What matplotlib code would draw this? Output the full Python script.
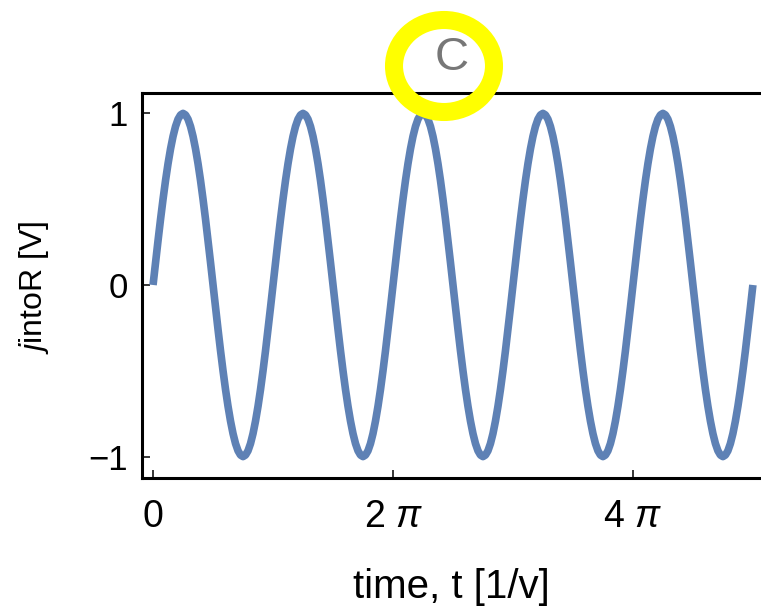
import numpy as np
import matplotlib.pyplot as plt
from matplotlib.patches import Ellipse

plt.rcParams['font.family'] = 'Liberation Sans'
plt.rcParams['mathtext.fontset'] = 'custom'
plt.rcParams['mathtext.rm'] = 'Liberation Sans'
plt.rcParams['mathtext.it'] = 'Liberation Sans:italic'

# j_intoR samples, every pi/48 in t (5 periods)
j_into_r = [
	0, .131, .259, .383, .5, .609, .707, .793, .866, .924, .966, .991, 1, .991, .966, .924, .866, .793, .707, .609, .5, .383, .259, .131,
	0, -.131, -.259, -.383, -.5, -.609, -.707, -.793, -.866, -.924, -.966, -.991, -1, -.991, -.966, -.924, -.866, -.793, -.707, -.609, -.5, -.383, -.259, -.131,
	0, .131, .259, .383, .5, .609, .707, .793, .866, .924, .966, .991, 1, .991, .966, .924, .866, .793, .707, .609, .5, .383, .259, .131,
	0, -.131, -.259, -.383, -.5, -.609, -.707, -.793, -.866, -.924, -.966, -.991, -1, -.991, -.966, -.924, -.866, -.793, -.707, -.609, -.5, -.383, -.259, -.131,
	0, .131, .259, .383, .5, .609, .707, .793, .866, .924, .966, .991, 1, .991, .966, .924, .866, .793, .707, .609, .5, .383, .259, .131,
	0, -.131, -.259, -.383, -.5, -.609, -.707, -.793, -.866, -.924, -.966, -.991, -1, -.991, -.966, -.924, -.866, -.793, -.707, -.609, -.5, -.383, -.259, -.131,
	0, .131, .259, .383, .5, .609, .707, .793, .866, .924, .966, .991, 1, .991, .966, .924, .866, .793, .707, .609, .5, .383, .259, .131,
	0, -.131, -.259, -.383, -.5, -.609, -.707, -.793, -.866, -.924, -.966, -.991, -1, -.991, -.966, -.924, -.866, -.793, -.707, -.609, -.5, -.383, -.259, -.131,
	0, .131, .259, .383, .5, .609, .707, .793, .866, .924, .966, .991, 1, .991, .966, .924, .866, .793, .707, .609, .5, .383, .259, .131,
	0, -.131, -.259, -.383, -.5, -.609, -.707, -.793, -.866, -.924, -.966, -.991, -1, -.991, -.966, -.924, -.866, -.793, -.707, -.609, -.5, -.383, -.259, -.131,
	0,
]
t_end = 5 * np.pi
time = np.linspace(0, t_end, len(j_into_r))

xticks = [0, 2 * np.pi, 4 * np.pi]
xtick_labels = ["0", r"2 $\pi$", r"4 $\pi$"]
yticks = [-1, 0, 1]
ytick_labels = ["\u22121", "0", "1"]

fig = plt.figure(figsize=(7.61, 6.07), dpi=100)
ax = fig.add_axes([141.7 / 761, 1 - 477.7 / 607, 1 - 141.7 / 761 + 0.002, (477.7 - 93.3) / 607])

ax.plot(time, j_into_r, color="#5E81B5", linewidth=5.5, solid_capstyle="butt", solid_joinstyle="round")
ax.set_xlim(-0.297, 15.96)
ax.set_ylim(-1.123, 1.117)

ax.set_xticks(xticks)
ax.set_xticklabels(xtick_labels)
ax.set_yticks(yticks)
ax.set_yticklabels(ytick_labels)
ax.tick_params(axis="both", direction="in", length=6, width=1.1, colors="black")
ax.tick_params(axis="x", pad=15, labelsize=27)
ax.tick_params(axis="y", pad=10, labelsize=25)
ax.spines["right"].set_visible(False)
for s in ["left", "bottom", "top"]:
	ax.spines[s].set_linewidth(2.2)

fig.text(34 / 761, 1 - 287 / 607, r"$\mathit{j}$intoR [V]", rotation=90, ha="center", va="center", fontsize=23)
fig.text(451 / 761, 1 - 587 / 607, "time, t [1/v]", ha="center", va="center", fontsize=29)
fig.text(452 / 761, 1 - 58 / 607, "C", ha="center", va="center", fontsize=34, color="#777777")

ring = Ellipse((444 / 761, 1 - 66 / 607), 100 / 761, 92 / 607, transform=fig.transFigure,
	facecolor="none", edgecolor="#FFFF00", linewidth=13, zorder=10)
fig.add_artist(ring)

fig.savefig("out.png", dpi=100)
